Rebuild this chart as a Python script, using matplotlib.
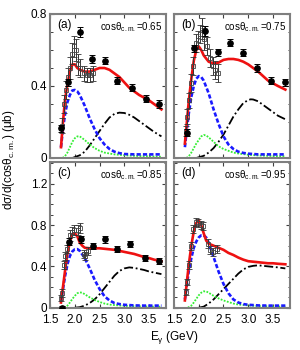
import matplotlib
matplotlib.use("Agg")
import matplotlib.pyplot as plt
from matplotlib.ticker import MultipleLocator

plt.rcParams['font.family'] = ['Liberation Sans', 'DejaVu Sans']
plt.rcParams['mathtext.fontset'] = 'custom'
plt.rcParams['mathtext.rm'] = 'Liberation Sans'
plt.rcParams['mathtext.it'] = 'Liberation Sans:italic'
plt.rcParams['mathtext.bf'] = 'Liberation Sans:bold'

panel_tags = ["(a)", "(b)", "(c)", "(d)"]
cos_labels = ["0.65", "0.75", "0.85", "0.95"]

# ---- open points (dense data) ----
a_open_E = [1.74, 1.78, 1.82, 1.86, 1.90, 1.94, 1.98, 2.02, 2.06, 2.10, 2.18, 2.24, 2.30, 2.36]
a_open_v = [0.18, 0.30, 0.38, 0.45, 0.50, 0.58, 0.62, 0.60, 0.52, 0.50, 0.47, 0.46, 0.46, 0.47]
a_open_e = [0.04, 0.05, 0.05, 0.05, 0.06, 0.06, 0.06, 0.06, 0.06, 0.05, 0.04, 0.04, 0.04, 0.04]

b_open_E = [1.75, 1.77, 1.81, 1.84, 1.88, 1.95, 1.99, 2.02, 2.06, 2.11, 2.16, 2.22, 2.28, 2.33, 2.39]
b_open_v = [0.15, 0.23, 0.32, 0.415, 0.51, 0.64, 0.655, 0.69, 0.72, 0.66, 0.62, 0.555, 0.51, 0.49, 0.47]
b_open_e = [0.03, 0.04, 0.04, 0.05, 0.05, 0.05, 0.05, 0.05, 0.06, 0.06, 0.05, 0.05, 0.05, 0.05, 0.05]

c_open_E = [1.73, 1.75, 1.78, 1.81, 1.84, 1.91, 1.95, 1.99, 2.06, 2.10, 2.18, 2.21, 2.26]
c_open_v = [0.09, 0.14, 0.41, 0.50, 0.57, 0.70, 0.73, 0.755, 0.755, 0.77, 0.52, 0.50, 0.55]
c_open_e = [0.03, 0.04, 0.04, 0.04, 0.04, 0.05, 0.05, 0.05, 0.05, 0.05, 0.04, 0.04, 0.04]

d_open_E = [1.74, 1.77, 1.81, 1.84, 1.89, 1.94, 1.99, 2.04, 2.08, 2.18, 2.23, 2.29, 2.36]
d_open_v = [0.155, 0.25, 0.41, 0.60, 0.765, 0.83, 0.82, 0.80, 0.79, 0.62, 0.555, 0.54, 0.57]
d_open_e = [0.03, 0.03, 0.04, 0.04, 0.04, 0.04, 0.04, 0.04, 0.04, 0.04, 0.04, 0.04, 0.04]

# ---- filled points ----
a_dot_E = [1.72, 1.87, 2.10, 2.35, 2.61, 2.86, 3.15, 3.43, 3.70]
a_dot_v = [0.165, 0.42, 0.70, 0.55, 0.54, 0.43, 0.39, 0.33, 0.30]
a_dot_e = [0.02, 0.02, 0.03, 0.02, 0.02, 0.02, 0.02, 0.02, 0.02]

b_dot_E = [1.755, 1.91, 2.125, 2.38, 2.63, 2.90, 3.17, 3.45, 3.74]
b_dot_v = [0.14, 0.61, 0.705, 0.587, 0.64, 0.585, 0.50, 0.43, 0.42]
b_dot_e = [0.02, 0.02, 0.03, 0.02, 0.02, 0.02, 0.02, 0.02, 0.02]

c_dot_E = [1.74, 1.89, 2.12, 2.36, 2.61, 2.86, 3.12, 3.42, 3.70]
c_dot_v = [0.0, 0.64, 0.66, 0.60, 0.66, 0.57, 0.62, 0.48, 0.45]
c_dot_e = [0.02, 0.03, 0.03, 0.03, 0.03, 0.03, 0.03, 0.03, 0.03]

d_dot_E = []
d_dot_v = []
d_dot_e = []

# ---- model curves ----
a_tot_E = [1.72, 1.76, 1.80, 1.85, 1.90, 1.95, 2.0, 2.05, 2.1, 2.2, 2.3, 2.4, 2.5, 2.6, 2.7, 2.8, 2.9, 3.0, 3.1, 3.2, 3.3, 3.4, 3.5, 3.6, 3.75]
a_tot_v = [0.06, 0.20, 0.32, 0.41, 0.48, 0.52, 0.52, 0.50, 0.49, 0.48, 0.48, 0.49, 0.50, 0.50, 0.49, 0.47, 0.45, 0.42, 0.39, 0.37, 0.35, 0.335, 0.32, 0.30, 0.27]
a_blu_E = [1.72, 1.76, 1.80, 1.85, 1.90, 1.95, 2.0, 2.05, 2.1, 2.2, 2.3, 2.4, 2.5, 2.6, 2.7, 2.8, 2.9, 3.0, 3.2, 3.4, 3.6, 3.75]
a_blu_v = [0.06, 0.16, 0.24, 0.31, 0.35, 0.375, 0.378, 0.37, 0.35, 0.29, 0.22, 0.16, 0.11, 0.075, 0.05, 0.035, 0.027, 0.022, 0.02, 0.02, 0.02, 0.02]
a_grn_E = [1.75, 1.8, 1.85, 1.9, 1.95, 2.0, 2.05, 2.1, 2.2, 2.3, 2.4, 2.5, 2.6, 2.7, 2.8, 3.0, 3.2, 3.4, 3.6, 3.75]
a_grn_v = [0.0, 0.01, 0.03, 0.06, 0.09, 0.11, 0.12, 0.12, 0.10, 0.075, 0.055, 0.04, 0.03, 0.025, 0.02, 0.015, 0.012, 0.01, 0.008, 0.007]
a_blk_E = [1.95, 2.0, 2.1, 2.2, 2.3, 2.4, 2.5, 2.6, 2.7, 2.8, 2.9, 3.0, 3.1, 3.2, 3.3, 3.4, 3.5, 3.6, 3.75]
a_blk_v = [0.0, 0.005, 0.015, 0.035, 0.07, 0.11, 0.15, 0.19, 0.225, 0.245, 0.252, 0.25, 0.24, 0.225, 0.205, 0.185, 0.165, 0.145, 0.12]

b_tot_E = [1.72, 1.76, 1.80, 1.85, 1.90, 1.95, 2.0, 2.05, 2.1, 2.2, 2.3, 2.4, 2.5, 2.6, 2.7, 2.8, 2.9, 3.0, 3.1, 3.2, 3.3, 3.4, 3.5, 3.6, 3.75]
b_tot_v = [0.08, 0.20, 0.32, 0.44, 0.54, 0.60, 0.62, 0.60, 0.57, 0.535, 0.525, 0.53, 0.545, 0.55, 0.55, 0.545, 0.535, 0.52, 0.50, 0.48, 0.455, 0.43, 0.415, 0.40, 0.38]
b_blu_E = [1.72, 1.76, 1.80, 1.85, 1.90, 1.95, 2.0, 2.05, 2.1, 2.2, 2.3, 2.4, 2.5, 2.6, 2.7, 2.8, 2.9, 3.0, 3.2, 3.4, 3.6, 3.75]
b_blu_v = [0.06, 0.16, 0.25, 0.34, 0.40, 0.44, 0.455, 0.45, 0.43, 0.36, 0.27, 0.19, 0.12, 0.075, 0.05, 0.035, 0.028, 0.024, 0.02, 0.02, 0.02, 0.02]
b_grn_E = [1.75, 1.8, 1.85, 1.9, 1.95, 2.0, 2.05, 2.1, 2.15, 2.2, 2.3, 2.4, 2.5, 2.6, 2.7, 2.8, 3.0, 3.2, 3.4, 3.6, 3.75]
b_grn_v = [0.0, 0.01, 0.03, 0.055, 0.08, 0.10, 0.12, 0.128, 0.125, 0.115, 0.09, 0.065, 0.05, 0.04, 0.03, 0.025, 0.018, 0.014, 0.012, 0.01, 0.01]
b_blk_E = [1.95, 2.0, 2.1, 2.2, 2.3, 2.4, 2.5, 2.6, 2.7, 2.8, 2.9, 3.0, 3.05, 3.1, 3.2, 3.3, 3.4, 3.5, 3.6, 3.75]
b_blk_v = [0.0, 0.004, 0.012, 0.03, 0.055, 0.09, 0.13, 0.18, 0.23, 0.27, 0.305, 0.322, 0.326, 0.325, 0.315, 0.295, 0.275, 0.255, 0.235, 0.215]

c_tot_E = [1.72, 1.76, 1.80, 1.85, 1.90, 1.95, 2.0, 2.05, 2.1, 2.15, 2.2, 2.3, 2.4, 2.5, 2.6, 2.7, 2.8, 2.9, 3.0, 3.1, 3.2, 3.3, 3.4, 3.5, 3.6, 3.75]
c_tot_v = [0.05, 0.20, 0.35, 0.52, 0.64, 0.71, 0.72, 0.69, 0.63, 0.60, 0.58, 0.575, 0.575, 0.575, 0.57, 0.565, 0.56, 0.55, 0.54, 0.53, 0.52, 0.505, 0.49, 0.48, 0.465, 0.45]
c_blu_E = [1.72, 1.76, 1.80, 1.85, 1.90, 1.95, 2.0, 2.05, 2.1, 2.2, 2.3, 2.4, 2.5, 2.6, 2.7, 2.8, 2.9, 3.0, 3.2, 3.4, 3.6, 3.75]
c_blu_v = [0.06, 0.18, 0.30, 0.42, 0.50, 0.545, 0.565, 0.567, 0.55, 0.48, 0.38, 0.27, 0.18, 0.11, 0.07, 0.045, 0.035, 0.028, 0.022, 0.02, 0.02, 0.02]
c_grn_E = [1.78, 1.85, 1.9, 1.95, 2.0, 2.05, 2.1, 2.15, 2.2, 2.3, 2.4, 2.5, 2.6, 2.7, 2.8, 3.0, 3.2, 3.4, 3.6, 3.75]
c_grn_v = [0.0, 0.02, 0.05, 0.085, 0.115, 0.14, 0.148, 0.145, 0.13, 0.10, 0.075, 0.055, 0.04, 0.03, 0.025, 0.018, 0.014, 0.012, 0.01, 0.01]
c_blk_E = [2.0, 2.1, 2.2, 2.3, 2.4, 2.5, 2.6, 2.7, 2.8, 2.9, 3.0, 3.1, 3.2, 3.3, 3.4, 3.5, 3.6, 3.75]
c_blk_v = [0.0, 0.005, 0.02, 0.045, 0.08, 0.13, 0.19, 0.25, 0.31, 0.355, 0.38, 0.39, 0.385, 0.375, 0.365, 0.35, 0.34, 0.325]

d_tot_E = [1.72, 1.76, 1.80, 1.85, 1.90, 1.95, 2.0, 2.05, 2.1, 2.15, 2.2, 2.3, 2.4, 2.5, 2.6, 2.7, 2.8, 2.9, 3.0, 3.1, 3.2, 3.3, 3.4, 3.5, 3.6, 3.75]
d_tot_v = [0.07, 0.25, 0.42, 0.60, 0.74, 0.82, 0.845, 0.80, 0.72, 0.65, 0.62, 0.60, 0.58, 0.56, 0.53, 0.51, 0.485, 0.465, 0.45, 0.445, 0.44, 0.435, 0.43, 0.43, 0.425, 0.42]
d_blu_E = [1.72, 1.76, 1.80, 1.85, 1.90, 1.95, 2.0, 2.05, 2.1, 2.15, 2.2, 2.3, 2.4, 2.5, 2.6, 2.7, 2.8, 2.9, 3.0, 3.2, 3.4, 3.6, 3.75]
d_blu_v = [0.08, 0.22, 0.36, 0.48, 0.58, 0.64, 0.68, 0.70, 0.70, 0.68, 0.63, 0.49, 0.35, 0.23, 0.14, 0.08, 0.05, 0.035, 0.028, 0.022, 0.02, 0.02, 0.02]
d_grn_E = [1.78, 1.85, 1.9, 1.95, 2.0, 2.05, 2.1, 2.15, 2.2, 2.3, 2.4, 2.5, 2.6, 2.7, 2.8, 3.0, 3.2, 3.4, 3.6, 3.75]
d_grn_v = [0.0, 0.02, 0.05, 0.085, 0.12, 0.145, 0.158, 0.158, 0.145, 0.115, 0.09, 0.07, 0.055, 0.04, 0.03, 0.022, 0.016, 0.013, 0.011, 0.01]
d_blk_E = [2.0, 2.1, 2.2, 2.3, 2.4, 2.5, 2.6, 2.7, 2.8, 2.9, 3.0, 3.1, 3.2, 3.3, 3.4, 3.5, 3.6, 3.75]
d_blk_v = [0.0, 0.01, 0.04, 0.08, 0.13, 0.18, 0.23, 0.28, 0.33, 0.37, 0.395, 0.405, 0.41, 0.405, 0.40, 0.395, 0.39, 0.38]

panels = [
    dict(open=(a_open_E, a_open_v, a_open_e), dot=(a_dot_E, a_dot_v, a_dot_e),
         tot=(a_tot_E, a_tot_v), blu=(a_blu_E, a_blu_v), grn=(a_grn_E, a_grn_v), blk=(a_blk_E, a_blk_v)),
    dict(open=(b_open_E, b_open_v, b_open_e), dot=(b_dot_E, b_dot_v, b_dot_e),
         tot=(b_tot_E, b_tot_v), blu=(b_blu_E, b_blu_v), grn=(b_grn_E, b_grn_v), blk=(b_blk_E, b_blk_v)),
    dict(open=(c_open_E, c_open_v, c_open_e), dot=(c_dot_E, c_dot_v, c_dot_e),
         tot=(c_tot_E, c_tot_v), blu=(c_blu_E, c_blu_v), grn=(c_grn_E, c_grn_v), blk=(c_blk_E, c_blk_v)),
    dict(open=(d_open_E, d_open_v, d_open_e), dot=(d_dot_E, d_dot_v, d_dot_e),
         tot=(d_tot_E, d_tot_v), blu=(d_blu_E, d_blu_v), grn=(d_grn_E, d_grn_v), blk=(d_blk_E, d_blk_v)),
]

fig = plt.figure(figsize=(3.0, 3.5), dpi=100)
lefts = [0.167, 0.58]
w = 0.386
tops = [(0.5486, 0.4114), (0.1209, 0.4162)]

spine_col = '#7f7f7f'
for i, p in enumerate(panels):
    r, c = divmod(i, 2)
    ax = fig.add_axes([lefts[c], tops[r][0], w, tops[r][1]])
    ax.set_xlim(1.5, 3.84)
    if r == 0:
        ax.set_ylim(0, 0.8)
        ax.set_yticks([0, 0.4, 0.8])
        ax.set_yticklabels(["0", "0.4", "0.8"])
    else:
        ax.set_ylim(0, 1.41)
        ax.set_yticks([0, 0.4, 0.8, 1.2])
        ax.set_yticklabels(["0", "0.4", "0.8", "1.2"])
    ax.yaxis.set_minor_locator(MultipleLocator(0.1))
    ax.set_xticks([1.5, 2.0, 2.5, 3.0, 3.5])
    ax.set_xticklabels(["1.5", "2.0", "2.5", "3.0", "3.5"])
    ax.tick_params(which='both', direction='in', top=True, right=True,
                   labelsize=8.5, color='#404040')
    ax.tick_params(axis='y', pad=2)
    ax.tick_params(axis='x', pad=4.5)
    ax.tick_params(which='major', length=3, width=0.8)
    ax.tick_params(which='minor', length=1.8, width=0.7)
    if r == 0:
        ax.tick_params(labelbottom=False)
    if c == 1:
        ax.tick_params(labelleft=False)
    for s in ax.spines.values():
        s.set_color(spine_col)
        s.set_linewidth(1.5)

    ax.plot(*p['blk'], color='k', lw=1.3, ls=(0, (5, 1.5, 1, 1.5)), zorder=2)
    ax.plot(*p['grn'], color='#33ee33', lw=1.3, ls=(0, (1, 0.8)), zorder=2)
    ax.plot(*p['blu'], color='#1a1aff', lw=1.9, ls=(0, (1.6, 0.8)), zorder=2)
    ax.plot(*p['tot'], color='#ee1111', lw=1.9, zorder=3)

    oE, ov, oe = p['open']
    ax.errorbar(oE, ov, yerr=oe, fmt='s', ms=2.2, mfc='none', mec='#444444', mew=0.6,
                ecolor='#333333', elinewidth=0.7, capsize=2.0, capthick=0.7, zorder=4)
    dE, dv, de = p['dot']
    if dE:
        ax.errorbar(dE, dv, yerr=de, fmt='o', ms=3.8, color='k', ecolor='k',
                    elinewidth=0.7, capsize=2.0, capthick=0.7, zorder=5)

    ax.text(0.06, 0.965, panel_tags[i], transform=ax.transAxes, ha='left', va='top', fontsize=8.5)
    ax.text(0.97, 0.955, "cosθ$_{\\rm c.m.}$=" + cos_labels[i], transform=ax.transAxes,
            ha='right', va='top', fontsize=7)

fig.text(0.03, 0.545, "dσ/d(cosθ$_{\\rm c.m.}$) (μb)", rotation=90,
         ha='center', va='center', fontsize=8.5)
fig.text(0.58, 0.036, "E$_{\\rm γ}$ (GeV)", ha='center', va='center', fontsize=8.5)

fig.savefig("out.png", dpi=100)
